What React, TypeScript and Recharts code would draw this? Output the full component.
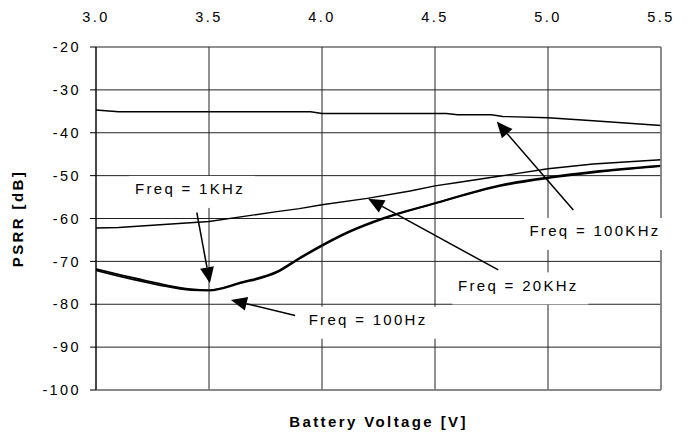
import React from "react";
import {
  LineChart,
  Line,
  XAxis,
  YAxis,
  CartesianGrid,
  ReferenceLine,
  ReferenceDot,
} from "recharts";

// battery voltage ticks and PSRR ticks
const voltTicks = [3.0, 3.5, 4.0, 4.5, 5.0, 5.5];
const psrrTicks = [-100, -90, -80, -70, -60, -50, -40, -30, -20];

// Freq = 100KHz
const v100k = [3.0, 3.1, 3.95, 4.0, 4.55, 4.6, 4.75, 4.8, 5.0, 5.2, 5.5];
const psrr100k = [-34.7, -35.1, -35.1, -35.5, -35.5, -35.8, -35.8, -36.2, -36.5, -37.2, -38.3];

// Freq = 20KHz
const v20k = [3.0, 3.1, 3.5, 3.8, 3.9, 4.0, 4.2, 4.39, 4.5, 4.6, 4.79, 5.0, 5.2, 5.5];
const psrr20k = [-62.2, -62.1, -60.7, -58.4, -57.7, -56.8, -55.3, -53.6, -52.4, -51.6, -50.1, -48.4, -47.3, -46.3];

// Freq = 1KHz and Freq = 100Hz (nearly on top of each other)
const vLow = [3.0, 3.12, 3.27, 3.42, 3.5, 3.64, 3.8, 3.9, 4.0, 4.12, 4.27, 4.5, 4.79, 5.0, 5.2, 5.5];
const psrr1k = [-71.8, -73.3, -75.1, -76.5, -76.7, -74.9, -72.4, -69.2, -66.2, -63.0, -59.9, -56.4, -52.2, -50.4, -49.1, -47.7];
const psrr100 = [-72.1, -73.7, -75.4, -76.7, -76.8, -75.1, -72.6, -69.4, -66.4, -63.2, -60.1, -56.5, -52.4, -50.6, -49.3, -47.8];

// annotations: label text position and arrow (start -> tip), data coords
const noteLabels = ["Freq = 1KHz", "Freq = 100Hz", "Freq = 20KHz", "Freq = 100KHz"];
const noteTextV = [3.416, 4.204, 4.869, 5.208];
const noteTextP = [-53.1, -83.6, -75.6, -62.9];
const arrowFromV = [3.446, 3.881, 4.78, 5.112];
const arrowFromP = [-58.6, -82.6, -72.0, -58.0];
const arrowToV = [3.504, 3.597, 4.204, 4.773];
const arrowToP = [-75.1, -79.0, -55.4, -37.4];

const toRows = (xs: number[], ys: number[]) => xs.map((x, i) => ({ v: x, p: ys[i] }));

const FONT = "'Liberation Sans', Arial, sans-serif";

const Arrow = (props: any) => {
  const { x1, y1, x2, y2 } = props;
  const dx = x2 - x1;
  const dy = y2 - y1;
  const len = Math.sqrt(dx * dx + dy * dy);
  const ux = dx / len;
  const uy = dy / len;
  const head = 16;
  const half = 7;
  const bx = x2 - ux * head;
  const by = y2 - uy * head;
  const pts = `${x2},${y2} ${bx - uy * half},${by + ux * half} ${bx + uy * half},${by - ux * half}`;
  return (
    <g>
      <line x1={x1} y1={y1} x2={bx} y2={by} stroke="#000" strokeWidth={1.5} />
      <polygon points={pts} fill="#000" />
    </g>
  );
};

const NoteBox = (label: string) => (props: any) => {
  const { cx, cy } = props;
  const w = label.length * 10 + 16;
  return (
    <g>
      <rect x={cx - w / 2 + 2} y={cy - 13} width={w} height={32} fill="#fff" />
      <text
        x={cx}
        y={cy}
        textAnchor="middle"
        dominantBaseline="central"
        fontSize={15}
        fill="#000"
        style={{ fontFamily: FONT, letterSpacing: 2.3 }}
      >
        {label}
      </text>
    </g>
  );
};

export default function App() {
  return (
    <div
      style={{
        position: "absolute",
        left: 0,
        top: 0,
        width: 690,
        height: 437,
        background: "#fff",
        fontFamily: FONT,
        letterSpacing: 2.4,
      }}
    >
      <LineChart width={690} height={437} margin={{ top: 17, right: 28, left: 0, bottom: 0 }}>
        <CartesianGrid stroke="#222" strokeWidth={1} />
        <XAxis
          xAxisId={0}
          dataKey="v"
          type="number"
          domain={[3, 5.5]}
          ticks={voltTicks}
          orientation="top"
          height={30}
          axisLine={false}
          tickLine={false}
          tickSize={0}
          tickMargin={25}
          tickFormatter={(t: number) => t.toFixed(1)}
          tick={{ fontSize: 14.5, fill: "#000" }}
          allowDataOverflow
        />
        <XAxis
          xAxisId="bottom"
          type="number"
          domain={[3, 5.5]}
          orientation="bottom"
          height={47}
          tick={false}
          tickLine={false}
          axisLine={{ stroke: "#888", strokeWidth: 1.5 }}
          label={{
            value: "Battery Voltage [V]",
            position: "insideBottom",
            offset: 10,
            style: { fontSize: 15, fontWeight: "bold", fill: "#000" },
          }}
        />
        <YAxis
          yAxisId={0}
          type="number"
          domain={[-100, -20]}
          ticks={psrrTicks}
          width={96}
          tickSize={6}
          tickMargin={9}
          axisLine={{ stroke: "#000" }}
          tickLine={{ stroke: "#000" }}
          tick={{ fontSize: 14.5, fill: "#000" }}
          allowDataOverflow
          label={{
            value: "PSRR [dB]",
            angle: -90,
            position: "insideLeft",
            offset: 18,
            style: { fontSize: 15, fontWeight: "bold", fill: "#000", textAnchor: "middle" },
          }}
        />
        <YAxis
          yAxisId="right"
          orientation="right"
          type="number"
          domain={[-100, -20]}
          width={1}
          tick={false}
          tickLine={false}
          axisLine={{ stroke: "#888", strokeWidth: 1.5 }}
        />

        {noteLabels.map((label, i) => (
          <ReferenceDot
            key={"box" + i}
            x={noteTextV[i]}
            y={noteTextP[i]}
            r={0}
            shape={NoteBox(label)}
          />
        ))}

        <Line data={toRows(v100k, psrr100k)} dataKey="p" type="linear" stroke="#000" strokeWidth={1.4} dot={false} isAnimationActive={false} />
        <Line data={toRows(v20k, psrr20k)} dataKey="p" type="linear" stroke="#000" strokeWidth={1.4} dot={false} isAnimationActive={false} />
        <Line data={toRows(vLow, psrr1k)} dataKey="p" type="monotone" stroke="#000" strokeWidth={1.8} dot={false} isAnimationActive={false} />
        <Line data={toRows(vLow, psrr100)} dataKey="p" type="monotone" stroke="#000" strokeWidth={1.8} dot={false} isAnimationActive={false} />

        {noteLabels.map((label, i) => (
          <ReferenceLine
            key={"arrow" + i}
            segment={[
              { x: arrowFromV[i], y: arrowFromP[i] },
              { x: arrowToV[i], y: arrowToP[i] },
            ]}
            shape={Arrow}
          />
        ))}
      </LineChart>
    </div>
  );
}
